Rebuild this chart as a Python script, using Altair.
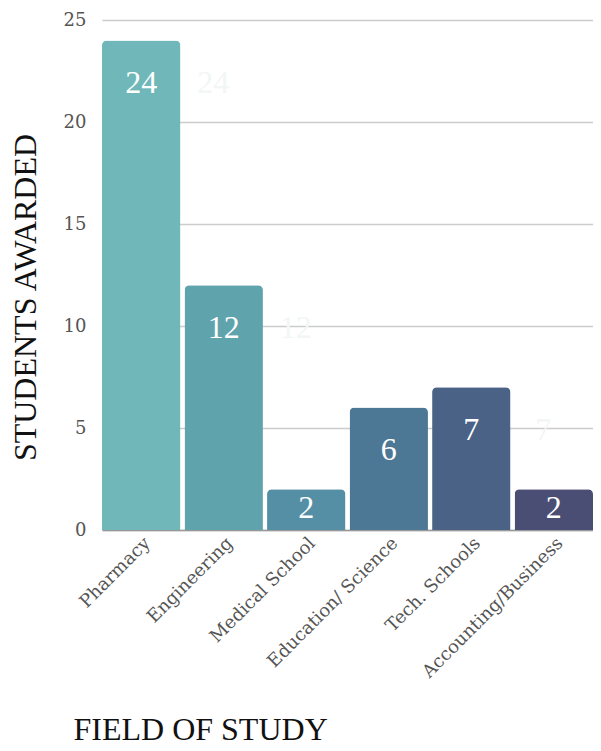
import altair as alt
import pandas as pd

fields = ["Pharmacy", "Engineering", "Medical School", "Education/ Science", "Tech. Schools", "Accounting/Business"]
students = [24, 12, 2, 6, 7, 2]
colors = ["#6fb7b9", "#5fa3ad", "#548fa5", "#4d7895", "#4a6286", "#4a4e74"]

df = pd.DataFrame({"field": fields, "students": students, "color": colors})

FONT = "Liberation Serif"
TICKFONT = "DejaVu Serif"

yscale = alt.Scale(domain=[0, 25], nice=False)

x = alt.X("field:N", sort=fields,
          scale=alt.Scale(paddingInner=0.05, paddingOuter=0),
          axis=alt.Axis(title="FIELD OF STUDY", labelAngle=-45, labelAlign="right",
                        labelBaseline="top", labelFont=TICKFONT, labelFontSize=18,
                        labelLimit=400, labelOverlap=False,
                        labelColor="#555555", labelPadding=4, ticks=False,
                        domainColor="#999999", domainWidth=1.5,
                        titleFont=FONT, titleFontSize=32, titleFontWeight="normal",
                        titleColor="#111111", titleAnchor="start", titleAlign="left",
                        titleBaseline="alphabetic", titleX=-29, titleY=209))
yaxis = alt.Axis(title="STUDENTS AWARDED", values=[0, 5, 10, 15, 20, 25],
                 labelFont=TICKFONT, labelFontSize=18, labelColor="#555555",
                 labelPadding=16, ticks=False, domain=False,
                 gridColor="#cccccc", gridWidth=1.5,
                 titleFont=FONT, titleFontSize=32, titleFontWeight="normal",
                 titleColor="#111111", titleAngle=-90, titleAlign="center",
                 titleBaseline="alphabetic", titleX=-67, titleY=277)
y = alt.Y("students:Q", scale=yscale, axis=yaxis)
ylab = alt.Y("ly:Q", scale=yscale, axis=yaxis)

base = alt.Chart(df).transform_calculate(
    ly="datum.students > 4 ? datum.students - 2.1 : datum.students * 0.55"
)

ghost = base.mark_text(font=FONT, fontSize=32, color="#f2f6f6", dx=72, baseline="middle").encode(
    x=x, y=ylab, text="students:Q")

bars = base.mark_bar(cornerRadiusTopLeft=5, cornerRadiusTopRight=5).encode(
    x=x, y=y, color=alt.Color("color:N", scale=None))

labels = base.mark_text(font=FONT, fontSize=32, color="white", baseline="middle").encode(
    x=x, y=ylab, text="students:Q")

chart = alt.layer(ghost, bars, labels).properties(
    width=491, height=510,
    autosize=alt.AutoSizeParams(type="none"),
    padding={"left": 94, "top": 12, "right": 0, "bottom": 213}
).configure_view(stroke=None)

chart.save("out.html", embed_options={"renderer": "svg", "actions": False})
